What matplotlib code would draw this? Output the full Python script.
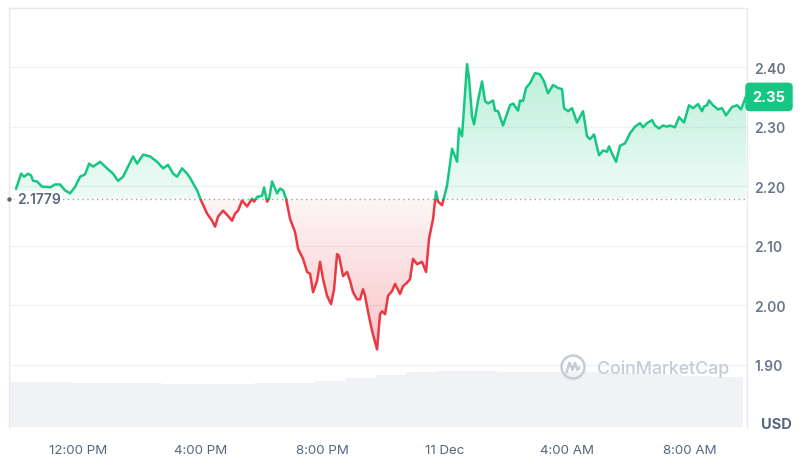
import numpy as np
import matplotlib
matplotlib.use("Agg")
import matplotlib.pyplot as plt
from matplotlib.patches import Rectangle, Circle
from matplotlib.path import Path
from matplotlib.lines import Line2D
import matplotlib.transforms as mtransforms

plt.rcParams['font.family'] = ['Inter', 'DejaVu Sans']

# ---------------- data ----------------
# hours since 10 Dec 00:00 (local)
hours = [9.972, 10.136, 10.234, 10.365, 10.463, 10.528, 10.659, 10.823, 10.986, 11.084,
         11.248, 11.411, 11.575, 11.738, 11.902, 12.065, 12.229, 12.360, 12.491, 12.720,
         12.948, 13.145, 13.308, 13.472, 13.635, 13.799, 13.930, 14.126, 14.355, 14.584,
         14.780, 14.944, 15.107, 15.238, 15.401, 15.565, 15.663, 15.892, 16.023, 16.219,
         16.383, 16.481, 16.579, 16.742, 16.906, 17.037, 17.135, 17.233, 17.364, 17.527,
         17.691, 17.756, 17.854, 18.018, 18.083, 18.181, 18.247, 18.345, 18.508, 18.607,
         18.705, 18.803, 18.934, 19.097, 19.195, 19.359, 19.490, 19.588, 19.686, 19.817,
         19.915, 20.013, 20.144, 20.275, 20.373, 20.471, 20.536, 20.667, 20.798, 20.896,
         20.994, 21.125, 21.223, 21.321, 21.387, 21.485, 21.616, 21.779, 21.877, 21.943,
         22.041, 22.139, 22.270, 22.368, 22.531, 22.629, 22.760, 22.858, 22.956, 23.087,
         23.251, 23.382, 23.480, 23.611, 23.709, 23.774, 23.905, 24.068, 24.232, 24.396,
         24.461, 24.559, 24.723, 24.788, 24.886, 24.952, 25.082, 25.213, 25.311, 25.409,
         25.573, 25.638, 25.737, 25.900, 26.031, 26.129, 26.227, 26.391, 26.456, 26.554,
         26.652, 26.783, 26.947, 27.110, 27.241, 27.372, 27.535, 27.699, 27.830, 27.895,
         28.026, 28.157, 28.320, 28.517, 28.647, 28.745, 28.876, 29.040, 29.171, 29.301,
         29.367, 29.465, 29.596, 29.727, 29.890, 30.054, 30.217, 30.381, 30.479, 30.610,
         30.773, 30.871, 31.002, 31.133, 31.264, 31.362, 31.525, 31.656, 31.820, 31.983,
         32.114, 32.278, 32.409, 32.474, 32.572, 32.637, 32.768, 32.932, 33.063, 33.194,
         33.390, 33.554, 33.684, 33.848]
prices = [2.196, 2.221, 2.216, 2.221, 2.218, 2.209, 2.208, 2.199, 2.199, 2.198,
          2.203, 2.203, 2.193, 2.188, 2.199, 2.216, 2.220, 2.238, 2.233, 2.241,
          2.230, 2.221, 2.209, 2.216, 2.233, 2.250, 2.238, 2.253, 2.250, 2.241,
          2.230, 2.236, 2.221, 2.216, 2.230, 2.221, 2.214, 2.193, 2.176, 2.154,
          2.142, 2.132, 2.149, 2.159, 2.150, 2.142, 2.154, 2.159, 2.176, 2.166,
          2.179, 2.174, 2.182, 2.184, 2.198, 2.174, 2.179, 2.208, 2.188, 2.196,
          2.193, 2.179, 2.145, 2.123, 2.095, 2.078, 2.056, 2.053, 2.022, 2.041,
          2.073, 2.044, 2.016, 2.002, 2.027, 2.086, 2.083, 2.049, 2.056, 2.041,
          2.022, 2.010, 2.010, 2.027, 2.016, 1.989, 1.957, 1.926, 1.985, 1.990,
          1.985, 2.016, 2.024, 2.036, 2.019, 2.032, 2.038, 2.044, 2.078, 2.069,
          2.073, 2.056, 2.112, 2.145, 2.191, 2.174, 2.168, 2.201, 2.263, 2.241,
          2.297, 2.284, 2.405, 2.381, 2.317, 2.304, 2.344, 2.376, 2.343, 2.339,
          2.344, 2.327, 2.326, 2.302, 2.322, 2.336, 2.339, 2.327, 2.344, 2.343,
          2.365, 2.373, 2.390, 2.388, 2.376, 2.356, 2.370, 2.365, 2.363, 2.331,
          2.326, 2.331, 2.307, 2.326, 2.284, 2.279, 2.287, 2.252, 2.260, 2.258,
          2.267, 2.255, 2.241, 2.268, 2.272, 2.289, 2.300, 2.306, 2.299, 2.306,
          2.311, 2.302, 2.297, 2.302, 2.300, 2.302, 2.299, 2.316, 2.307, 2.336,
          2.331, 2.338, 2.326, 2.334, 2.336, 2.344, 2.336, 2.329, 2.331, 2.319,
          2.333, 2.336, 2.329, 2.351]
baseline = 2.1779
last_price_label = "2.35"

vol_hours = [9.74 + i for i in range(24)]
volumes = [45, 45, 44.5, 44, 44, 43, 43, 43, 44, 44,
           46, 49, 52, 55, 56, 56, 55, 55, 55, 55,
           54, 53, 51, 50]

xtick_hours = [12, 16, 20, 24, 28, 32]
xtick_labels = ["12:00 PM", "4:00 PM", "8:00 PM", "11 Dec", "4:00 AM", "8:00 AM"]
ytick_values = [1.90, 2.00, 2.10, 2.20, 2.30, 2.40]

# ---------------- styling ----------------
GREEN = "#16c784"
RED = "#ea3943"
GRID = "#eff1f4"
SPINE = "#e6e9ee"

W, H = 800, 460
fig = plt.figure(figsize=(W / 100, H / 100), dpi=100)
fig.patch.set_facecolor("white")

x0, x1 = 9, 747
y_top, y_bot = 9, 428
pos = [x0 / W, 1 - y_bot / H, (x1 - x0) / W, (y_bot - y_top) / H]

xmin, xmax = 9.74, 33.88
ymin, ymax = 1.7956, 2.4993

# volume axes (behind)
vax = fig.add_axes(pos)
vax.bar(vol_hours, volumes, width=1.006, align="edge", color="#f1f2f6", edgecolor="none")
vax.set_xlim(xmin, xmax)
vax.set_ylim(0, 419)
vax.axis("off")

# price axes
ax = fig.add_axes(pos)
ax.patch.set_alpha(0)
t = np.array(hours)
p = np.array(prices)

for yv in ytick_values:
    ax.axhline(yv, color=GRID, lw=1.0, zorder=0)

# gradient fills clipped to areas
def gradient_fill(where, color, a_base, a_far, lo, hi, far_top):
    coll = ax.fill_between(t, p, baseline, where=where, interpolate=True,
                           color="none", edgecolor="none")
    paths = coll.get_paths()
    comp = Path.make_compound_path(*paths)
    coll.remove()
    rgb = matplotlib.colors.to_rgb(color)
    n = 256
    arr = np.zeros((n, 1, 4))
    arr[..., 0], arr[..., 1], arr[..., 2] = rgb
    a = np.linspace(a_base, a_far, n) if far_top else np.linspace(a_far, a_base, n)
    arr[:, 0, 3] = a
    im = ax.imshow(arr, extent=[xmin, xmax, lo, hi], origin="lower",
                   aspect="auto", zorder=1, interpolation="bilinear")
    im.set_clip_path(comp, ax.transData)

gradient_fill(p >= baseline, GREEN, 0.07, 0.30, baseline, 2.41, True)
gradient_fill(p <= baseline, RED, 0.05, 0.30, 1.92, baseline, False)

# price line, split colours at the baseline
top_rect = Rectangle((xmin, baseline), xmax - xmin, 1.0, transform=ax.transData)
bot_rect = Rectangle((xmin, baseline - 1.0), xmax - xmin, 1.0, transform=ax.transData)
lg, = ax.plot(t, p, color=GREEN, lw=1.8, solid_joinstyle="round", zorder=3)
lr, = ax.plot(t, p, color=RED, lw=1.8, solid_joinstyle="round", zorder=3)
lg.set_clip_path(top_rect)
lr.set_clip_path(bot_rect)

blend = mtransforms.blended_transform_factory(ax.transAxes, ax.transData)
# baseline dotted
ax.axhline(baseline, color="#9aa3b1", lw=1.0, ls=(0, (1, 2.5)), zorder=2)
ax.text(0.011, baseline, f"{baseline:.4f}", transform=blend,
        ha="left", va="center", fontsize=10, fontweight="semibold", color="#58667e",
        bbox=dict(boxstyle="square,pad=0.12", facecolor="white", edgecolor="none"), zorder=4)
ax.plot([0.0], [baseline], marker="o", ms=2.2, color="#58667e",
        transform=blend, clip_on=False, zorder=4)

ax.set_xlim(xmin, xmax)
ax.set_ylim(ymin, ymax)

# axes / ticks
ax.set_xticks(xtick_hours)
ax.set_xticklabels(xtick_labels)
ax.set_yticks(ytick_values)
ax.set_yticklabels([f"{v:.2f}" for v in ytick_values])
ax.yaxis.tick_right()
ax.tick_params(axis="y", length=0, pad=5, labelsize=10, labelcolor="#6b768a")
ax.tick_params(axis="x", length=0, pad=12, labelsize=9.6, labelcolor="#58667e")
for lab in ax.get_yticklabels():
    lab.set_fontweight("semibold")

for s in ["top", "left", "right"]:
    ax.spines[s].set_color(SPINE)
    ax.spines[s].set_linewidth(1.0)
ax.spines["bottom"].set_visible(False)

# current price tag
ax.text(1.0 + 22 / (x1 - x0), 2.35, last_price_label, transform=blend,
        ha="center", va="center", fontsize=10.5, fontweight="bold", color="white",
        bbox=dict(boxstyle="round,pad=0.5,rounding_size=0.3", facecolor=GREEN, edgecolor="none"),
        zorder=5, clip_on=False)

# USD label
fig.text(776 / W, 1 - 425 / H, "USD", ha="center", va="center", fontsize=10.5,
         fontweight="bold", color="#58667e")

# watermark
wm = "#c6ccd6"
fig.text(597 / W, 1 - 369 / H, "CoinMarketCap", ha="left", va="center",
         fontsize=12.8, color=wm, fontweight="medium")
cx, cy, r = 5.73, (H - 368) / 100, 0.115
fig.patches.append(Circle((cx, cy), r, transform=fig.dpi_scale_trans, fill=False,
                          edgecolor=wm, lw=1.8))
wx = [cx - 0.065, cx - 0.035, cx - 0.005, cx + 0.02, cx + 0.045, cx + 0.065]
wy = [cy - 0.055, cy + 0.045, cy - 0.03, cy + 0.04, cy - 0.03, cy - 0.005]
fig.lines.append(Line2D(wx, wy, transform=fig.dpi_scale_trans, color=wm, lw=1.8,
                        solid_joinstyle="round", solid_capstyle="round"))

fig.savefig("out.png", dpi=100)
